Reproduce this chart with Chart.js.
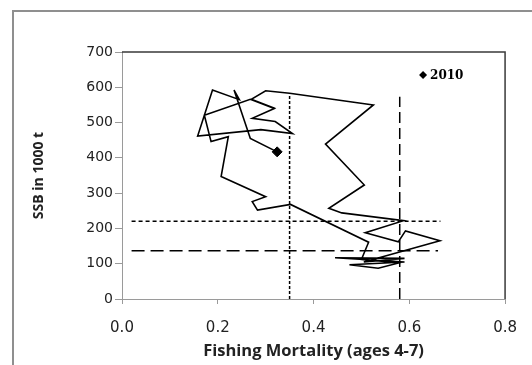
<!DOCTYPE html>
<html>
<head>
<meta charset="utf-8">
<script src="https://cdn.jsdelivr.net/npm/chart.js@4.4.1/dist/chart.umd.min.js"></script>
<style>
    html, body { margin: 0; padding: 0; background: #ffffff; overflow: hidden; }
    #wrap { position: relative; width: 532px; height: 365px; }
    #frame {
        position: absolute; left: 12px; top: 10px;
        width: 600px; height: 500px;
        border: 2px solid #8f8f8f;
    }
    #stockChart { position: absolute; left: 0; top: 0; }
</style>
</head>
<body>
<div id="wrap">
    <div id="frame"></div>
    <canvas id="stockChart" width="532" height="365"></canvas>
</div>
<script>
// Fishing mortality (ages 4-7) vs SSB trajectory, last point is 2010
const fishingMortality = [
    0.32, 0.27, 0.30, 0.35, 0.525, 0.425, 0.506, 0.432, 0.459, 0.588,
    0.508, 0.577, 0.592, 0.664, 0.505, 0.59, 0.445, 0.59, 0.475, 0.535,
    0.58, 0.50, 0.515, 0.352, 0.283, 0.272, 0.30, 0.207, 0.222, 0.186,
    0.172, 0.268, 0.318, 0.272, 0.32, 0.356, 0.29, 0.158, 0.189, 0.245,
    0.234, 0.268, 0.324
];
const ssb = [
    540, 566, 590, 583, 550, 439, 323, 257, 244, 222,
    188, 162, 193, 165, 105, 115, 117, 105, 97, 87,
    103, 112, 161, 268, 252, 276, 290, 347, 460, 446,
    521, 566, 540, 512, 503, 469, 480, 462, 592, 565,
    592, 455, 417
];
const lastLabel = '2010';

// reference points (Fpa, Flim, Bpa, Blim)
const fpaX = [0.35, 0.35];
const fpaY = [0, 580];
const flimX = [0.58, 0.58];
const flimY = [0, 573];
const bpaX = [0.02, 0.665];
const bpaY = [220, 220];
const blimX = [0.02, 0.66];
const blimY = [137, 137];

const yTicks = [0, 100, 200, 300, 400, 500, 600, 700];
const xTicks = [0.0, 0.2, 0.4, 0.6, 0.8];

function toPoints(xs, ys) {
    return xs.map((x, i) => ({ x: x, y: ys[i] }));
}

function refLine(xs, ys, dash) {
    return {
        label: '',
        data: toPoints(xs, ys),
        showLine: true,
        borderColor: '#000000',
        borderWidth: 1.5,
        borderDash: dash,
        pointRadius: 0,
        fill: false
    };
}

// plot area border (top / right) and the small legend inside the plot
const plotExtras = {
    id: 'plotExtras',
    beforeDatasetsDraw(chart) {
        const { ctx, chartArea } = chart;
        ctx.save();
        ctx.strokeStyle = '#3a3a3a';
        ctx.lineWidth = 1.5;
        ctx.beginPath();
        ctx.moveTo(chartArea.left, chartArea.top);
        ctx.lineTo(chartArea.right, chartArea.top);
        ctx.lineTo(chartArea.right, chartArea.bottom);
        ctx.stroke();
        ctx.restore();
    },
    afterDatasetsDraw(chart) {
        const { ctx, chartArea } = chart;
        const cx = chartArea.right - 82;
        const cy = chartArea.top + 23;
        ctx.save();
        ctx.fillStyle = '#000000';
        ctx.beginPath();
        ctx.moveTo(cx, cy - 4);
        ctx.lineTo(cx + 4, cy);
        ctx.lineTo(cx, cy + 4);
        ctx.lineTo(cx - 4, cy);
        ctx.closePath();
        ctx.fill();
        ctx.font = "bold 12px 'DejaVu Serif', serif";
        ctx.textBaseline = 'middle';
        ctx.fillText(lastLabel, cx + 7, cy + 1);
        ctx.restore();
    }
};

const n = fishingMortality.length;

new Chart(document.getElementById('stockChart'), {
    type: 'scatter',
    data: {
        datasets: [
            {
                label: 'trajectory',
                data: toPoints(fishingMortality, ssb),
                showLine: true,
                borderColor: '#000000',
                borderWidth: 1.6,
                pointRadius: 0,
                tension: 0,
                fill: false
            },
            {
                label: lastLabel,
                data: [{ x: fishingMortality[n - 1], y: ssb[n - 1] }],
                pointStyle: 'rectRot',
                pointRadius: 5,
                backgroundColor: '#000000',
                borderColor: '#000000',
                showLine: false
            },
            refLine(fpaX, fpaY, [3, 2]),
            refLine(flimX, flimY, [11, 5]),
            refLine(bpaX, bpaY, [4, 3]),
            refLine(blimX, blimY, [13, 6])
        ]
    },
    options: {
        responsive: false,
        animation: false,
        layout: { padding: { left: 31, right: 25, top: 52, bottom: 0 } },
        plugins: {
            legend: { display: false },
            tooltip: { enabled: false }
        },
        scales: {
            x: {
                type: 'linear',
                min: 0,
                max: 0.8,
                afterBuildTicks: (scale) => { scale.ticks = xTicks.map(v => ({ value: v })); },
                afterFit: (scale) => { scale.height = 66; },
                ticks: {
                    padding: 15,
                    color: '#222222',
                    font: { family: "'DejaVu Sans', sans-serif", size: 15 },
                    callback: (v) => Number(v).toFixed(1)
                },
                grid: {
                    drawOnChartArea: false,
                    drawTicks: true,
                    tickLength: 5,
                    color: '#9a9a9a'
                },
                border: { display: true, color: '#9a9a9a', width: 1 },
                title: {
                    display: true,
                    text: 'Fishing Mortality (ages 4-7)',
                    color: '#222222',
                    font: { family: "'Open Sans', sans-serif", size: 16.5, weight: 'bold' },
                    padding: { top: 0, bottom: 4 }
                }
            },
            y: {
                type: 'linear',
                min: 0,
                max: 700,
                afterBuildTicks: (scale) => { scale.ticks = yTicks.map(v => ({ value: v })); },
                afterFit: (scale) => { scale.width = 91; },
                ticks: {
                    padding: 2,
                    color: '#222222',
                    font: { family: "'DejaVu Sans', sans-serif", size: 14 }
                },
                grid: {
                    drawOnChartArea: false,
                    drawTicks: true,
                    tickLength: 7,
                    color: '#9a9a9a'
                },
                border: { display: true, color: '#9a9a9a', width: 1 },
                title: {
                    display: true,
                    text: 'SSB in 1000 t',
                    color: '#222222',
                    font: { family: "'Open Sans', sans-serif", size: 14, weight: 'bold' },
                    padding: { top: 0, bottom: 0 }
                }
            }
        }
    },
    plugins: [plotExtras]
});
</script>
</body>
</html>
